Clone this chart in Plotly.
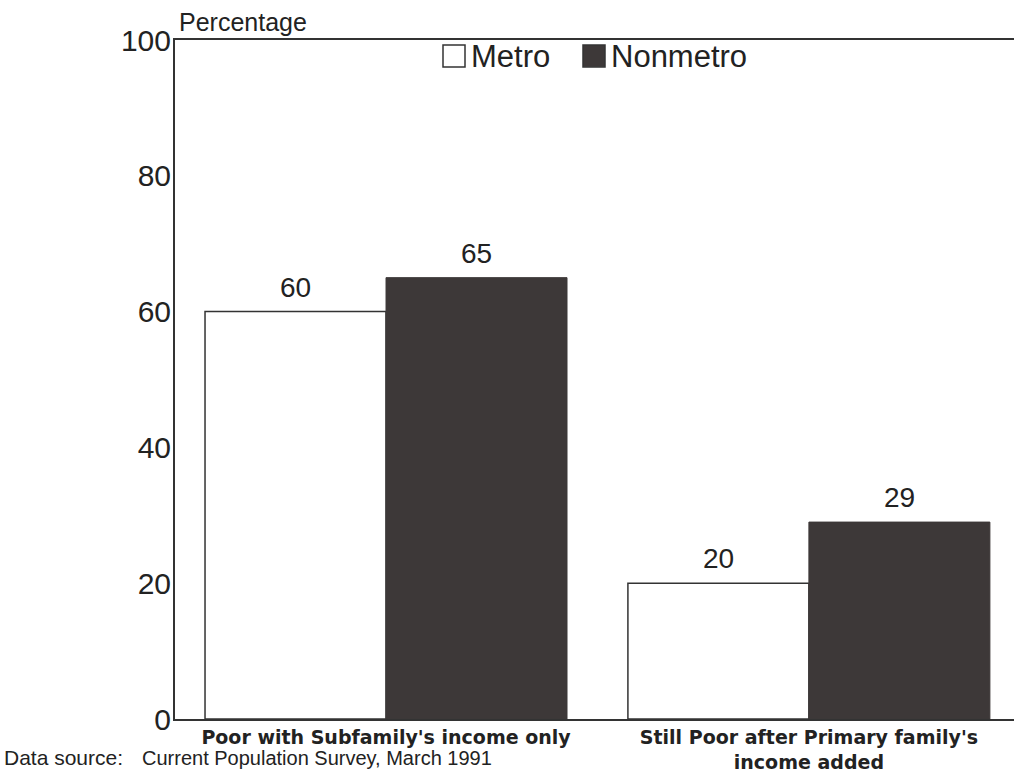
import plotly.graph_objects as go

categories = ["<b>Poor with Subfamily's income only</b>",
              "<b>Still Poor after Primary family's<br>income added</b>"]
series_names = ["Metro", "Nonmetro"]
metro = [60, 20]
nonmetro = [65, 29]
y_ticks = [0, 20, 40, 60, 80, 100]

FONT = "Liberation Sans, Arial, sans-serif"
WIDE_BOLD = "DejaVu Sans, Verdana, sans-serif"
INK = "#222222"
LINE = "#333333"
DARK = "#3d3838"

# plot area in pixels (figure is 1014 x 773)
L, R, T, B = 175, 0, 40, 51
W, H = 1014, 773
PW, PH = W - L - R, H - T - B

BAR_W = 0.428          # width of one bar, in category units
X_RANGE = [-0.499, 1.485]

fig = go.Figure()
fig.add_trace(go.Bar(
    name=series_names[0], x=categories, y=metro,
    offset=-BAR_W, width=BAR_W,
    marker=dict(color="white", line=dict(color=LINE, width=1.5)),
))
fig.add_trace(go.Bar(
    name=series_names[1], x=categories, y=nonmetro,
    offset=0, width=BAR_W,
    marker=dict(color=DARK, line=dict(color=DARK, width=1)),
))

# value labels above each bar
for vals, side in ((metro, -1), (nonmetro, 1)):
    for i, v in enumerate(vals):
        fig.add_annotation(x=i + side * BAR_W / 2, y=v, xref="x", yref="y",
                           text=str(v), showarrow=False, yanchor="bottom",
                           yshift=7, font=dict(size=28, family=FONT, color=INK))

fig.update_layout(
    width=W, height=H,
    margin=dict(l=L, r=R, t=T, b=B),
    paper_bgcolor="white", plot_bgcolor="white",
    font=dict(family=FONT, color=INK),
    barmode="overlay",
    showlegend=False,
    xaxis=dict(showline=True, linecolor=LINE, linewidth=2, mirror=True,
               ticks="", showgrid=False, range=X_RANGE,
               tickfont=dict(size=19, family=WIDE_BOLD, color=INK)),
    yaxis=dict(showline=True, linecolor=LINE, linewidth=2,
               range=[0, 100], tickvals=y_ticks, ticks="", showgrid=False,
               zeroline=False, ticklabelstandoff=-4,
               tickfont=dict(size=30, family=FONT, color=INK)),
)


def px_x(p):
    return (p - L) / PW


def px_y(p):
    return (H - B - p) / PH


# legend: swatches and labels along the top of the plot
legend_items = [
    (series_names[0], "white", 443, 469),
    (series_names[1], DARK, 583, 609),
]
for name, fill, box_left, text_left in legend_items:
    fig.add_shape(type="rect", xref="paper", yref="paper",
                  x0=px_x(box_left), x1=px_x(box_left + 22),
                  y0=px_y(67), y1=px_y(45),
                  fillcolor=fill, line=dict(color=LINE, width=1.5))
    fig.add_annotation(text=name, xref="paper", yref="paper",
                       x=px_x(text_left), y=px_y(57), xanchor="left",
                       yanchor="middle", showarrow=False,
                       font=dict(size=31, family=FONT, color=INK))

fig.add_annotation(text="Percentage", xref="paper", yref="paper",
                   x=px_x(177), y=1.0, xanchor="left", yanchor="bottom",
                   yshift=2, showarrow=False,
                   font=dict(size=25, family=FONT, color=INK))
fig.add_annotation(text="Data source:", xref="paper", yref="paper",
                   x=px_x(2), y=px_y(761), xanchor="left", yanchor="middle",
                   showarrow=False, font=dict(size=21, family=FONT, color=INK))
fig.add_annotation(text="Current Population Survey, March 1991",
                   xref="paper", yref="paper",
                   x=px_x(140), y=px_y(761), xanchor="left", yanchor="middle",
                   showarrow=False, font=dict(size=20, family=FONT, color=INK))

fig.write_html("out.html")
